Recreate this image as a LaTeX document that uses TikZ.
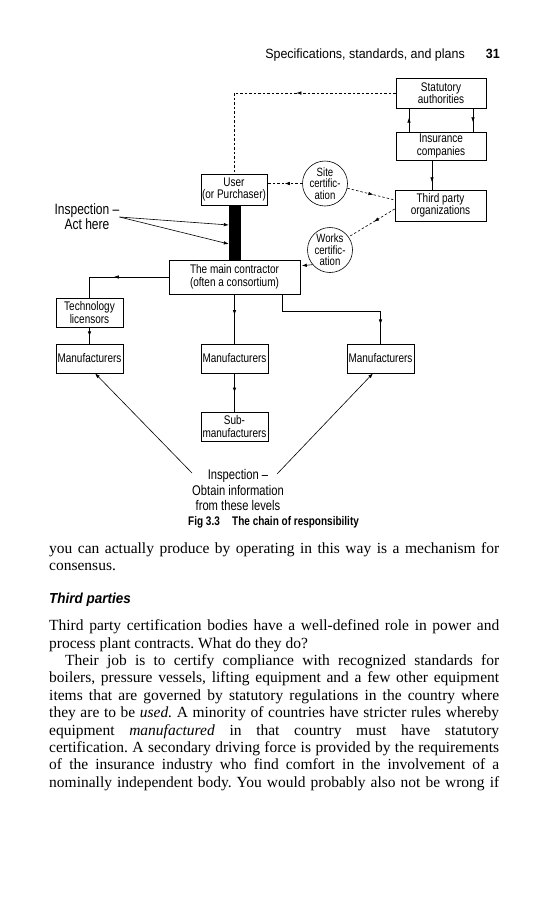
\documentclass[tikz,border=0pt]{standalone}
\usepackage{fontspec}
\setmainfont{Liberation Serif}
\newfontfamily\diagf[FakeStretch=0.8]{Liberation Sans}
\newfontfamily\headf[FakeStretch=0.93]{Liberation Sans}
\usetikzlibrary{arrows.meta,decorations.markings}
\frenchspacing
\tikzset{
  box/.style={draw, line width=0.6pt, rectangle, inner sep=0pt, align=center, font=\diagf\fontsize{12.5}{12.5}\selectfont},
  circ/.style={draw, line width=0.6pt, circle, inner sep=0pt, minimum size=45pt, align=center, font=\diagf\fontsize{12}{11.5}\selectfont},
  conn/.style={line width=0.6pt},
  dsh/.style={conn, dash pattern=on 2.5pt off 2pt},
  marr/.style={postaction={decorate}, decoration={markings, mark=at position #1 with {\arrow{Latex[length=5pt,width=3.5pt]}}}},
  tip/.style={-{Latex[length=5pt,width=3.5pt]}},
  body/.style={inner sep=0pt, anchor=base west, font=\fontsize{15.5}{17.4}\selectfont},
  lbl/.style={inner sep=0pt, align=center}
}
\begin{document}
\begin{tikzpicture}[x=1pt,y=-1pt]
\useasboundingbox[fill=white] (0,0) rectangle (549,900);

% header
\node[inner sep=0pt, anchor=base east, font=\headf\fontsize{13.4}{14}\selectfont] (hdr) at (465,58) {Specifications, standards, and plans};
\node[inner sep=0pt, anchor=base east, font=\headf\bfseries\fontsize{13.4}{14}\selectfont] (pg) at (500,58) {31};

% boxes
\node[box, minimum width=90pt, minimum height=30pt] (stat) at (441,93) {Statutory\\authorities};
\node[box, minimum width=90pt, minimum height=28pt] (ins) at (441,146) {Insurance\\companies};
\node[box, minimum width=91pt, minimum height=31pt] (third) at (440.5,205.5) {Third party\\organizations};
\node[box, minimum width=66pt, minimum height=31pt] (user) at (234,189.5) {User\\(or Purchaser)};
\node[circ] (site) at (325,183.5) {Site\\certific-\\ation};
\node[circ] (works) at (330,250) {Works\\certific-\\ation};
\node[fill=black, inner sep=0pt, minimum width=12pt, minimum height=55pt] (bar) at (235,232.5) {};
\node[box, minimum width=131pt, minimum height=34pt] (main) at (234.5,277) {The main contractor\\(often a consortium)};
\node[box, minimum width=67pt, minimum height=29pt] (tech) at (89.5,312.5) {Technology\\licensors};
\node[box, minimum width=67pt, minimum height=29pt] (m1) at (89.5,358.5) {Manufacturers};
\node[box, minimum width=67pt, minimum height=29pt] (m2) at (234.5,358.5) {Manufacturers};
\node[box, minimum width=67pt, minimum height=29pt] (m3) at (380.5,358.5) {Manufacturers};
\node[box, minimum width=67pt, minimum height=29pt] (sub) at (234.5,426.5) {Sub-\\manufacturers};

% labels
\node[lbl, font=\diagf\fontsize{15}{15}\selectfont] (insp1) at (87,217) {Inspection –\\Act here};
\node[lbl, font=\diagf\fontsize{14}{15.5}\selectfont] (insp2) at (238,490) {Inspection –\\Obtain information\\from these levels};
\coordinate (c1) at (192,473);
\coordinate (c2) at (277,474);

% connectors
\draw[dsh, marr=0.41] (stat.west) -| (user.north);
\draw[conn, marr=0.6] ([xshift=-32pt]ins.north) -- ([xshift=-32pt]stat.south);
\draw[conn, marr=0.6] ([xshift=32pt]stat.south) -- ([xshift=32pt]ins.north);
\draw[conn, marr=0.75] ([xshift=-9pt]ins.south) -- ([xshift=-9pt]ins.south |- third.north);
\draw[dsh, marr=0.5] (site.west) -- (user.east |- site.west);
\draw[dsh, marr=0.55] (site.-12) -- ([yshift=5.5pt]third.west);
\draw[dsh, marr=0.45] ([yshift=-3.5pt]third.west) -- (works.35);
\draw[conn, tip] (works.220) -- ([xshift=1.5pt,yshift=-6pt]main.north east);
\draw[conn, tip] (insp1.east) -- ([yshift=7.5pt]bar.west);
\draw[conn, tip] (insp1.east) -- ([yshift=-11.5pt]bar.west);
\draw[conn, marr=0.55] (main.west) -| (tech.north);
\draw[conn, marr=0.55] (tech.south) -- (m1.north);
\draw[conn, marr=0.42] (main.south) -- (m2.north);
\draw[conn, marr=0.87] ([xshift=47.5pt]main.south) -- ++(0,17) -| (m3.north);
\draw[conn, marr=0.5] (m2.south) -- (sub.north);
\draw[conn, tip] (c1) -- ([xshift=5.5pt]m1.south);
\draw[conn, tip] (c2) -- ([xshift=-7.5pt]m3.south);

% caption
\node[inner sep=0pt, anchor=base west, font=\diagf\bfseries\fontsize{12.5}{13}\selectfont] (figno) at (188,525) {Fig 3.3};
\node[inner sep=0pt, anchor=base west, font=\diagf\bfseries\fontsize{12.5}{13}\selectfont] (figcap) at (232,525) {The chain of responsibility};

% body text
\node[body] (b1) at (49,553) {\makebox[450pt][s]{you can actually produce by operating in this way is a mechanism for}};
\node[body] (b2) at (49,570.4) {consensus.};
\node[inner sep=0pt, anchor=base west, font=\headf\bfseries\itshape\fontsize{14.5}{15}\selectfont] (hd) at (49,603) {Third parties};
\node[body] (b3) at (49,630.6) {\makebox[450pt][s]{Third party certification bodies have a well-defined role in power and}};
\node[body] (b4) at (49,648) {process plant contracts. What do they do?};
\node[body] (b5) at (65,665.4) {\makebox[434pt][s]{Their job is to certify compliance with recognized standards for}};
\node[body] (b6) at (49,682.8) {\makebox[450pt][s]{boilers, pressure vessels, lifting equipment and a few other equipment}};
\node[body] (b7) at (49,700.2) {\makebox[450pt][s]{items that are governed by statutory regulations in the country where}};
\node[body] (b8) at (49,717.6) {\makebox[450pt][s]{they are to be \textit{used.} A minority of countries have stricter rules whereby}};
\node[body] (b9) at (49,735) {\makebox[450pt][s]{equipment \textit{manufactured} in that country must have statutory}};
\node[body] (b10) at (49,752.4) {\makebox[450pt][s]{certification. A secondary driving force is provided by the requirements}};
\node[body] (b11) at (49,769.8) {\makebox[450pt][s]{of the insurance industry who find comfort in the involvement of a}};
\node[body] (b12) at (49,787.2) {\makebox[450pt][s]{nominally independent body. You would probably also not be wrong if}};
\end{tikzpicture}
\end{document}
